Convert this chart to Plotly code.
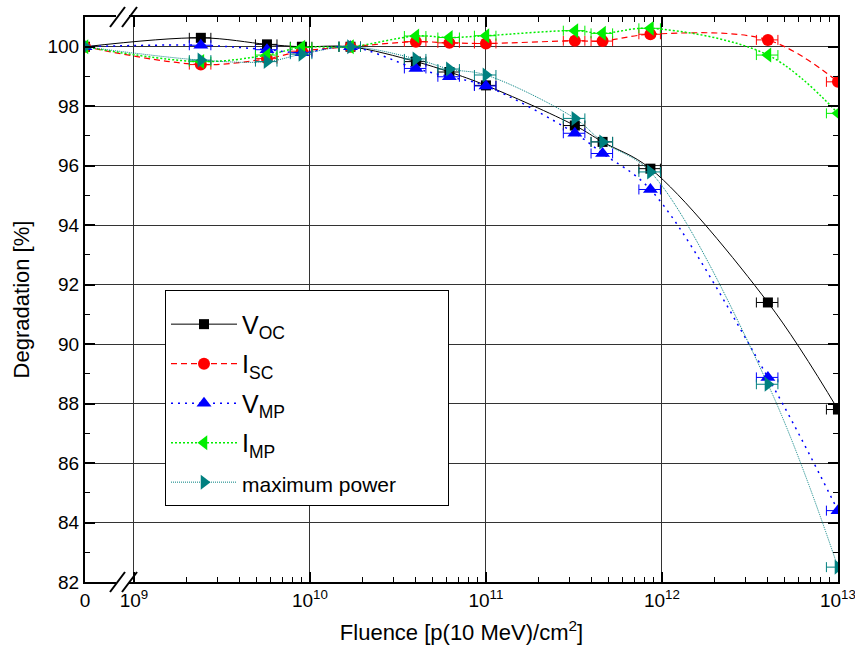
import plotly.graph_objects as go

# Fluence values in p(10 MeV)/cm^2 (0 = unirradiated reference)
fluence = [0, 2.4e9, 5.7e9, 9e9, 1.7e10, 4e10, 6.2e10, 1e11, 3.2e11, 4.6e11, 8.6e11, 4e12, 1e13]

# Remaining fraction of each parameter, in %
voc = [100.0, 100.3, 100.08, 100.0, 100.0, 99.5, 99.15, 98.7, 97.35, 96.8, 95.9, 91.4, 87.8]
isc = [100.0, 99.4, 99.6, 99.85, 100.0, 100.17, 100.13, 100.11, 100.2, 100.19, 100.42, 100.23, 98.82]
vmp = [100.0, 100.05, 99.9, 99.8, 100.0, 99.27, 98.99, 98.68, 97.09, 96.41, 95.2, 88.88, 84.4]
imp = [100.0, 99.5, 99.72, 99.98, 100.0, 100.36, 100.31, 100.37, 100.54, 100.45, 100.62, 99.72, 97.76]
pmax = [100.0, 99.55, 99.5, 99.75, 100.0, 99.59, 99.25, 99.05, 97.59, 96.8, 95.79, 88.65, 82.5]

fluence_err = 0.14  # relative uncertainty of the fluence

x_tickvals = [0, 1e9, 1e10, 1e11, 1e12, 1e13]
x_ticktext = ["0", "10<sup>9</sup>", "10<sup>10</sup>", "10<sup>11</sup>",
              "10<sup>12</sup>", "10<sup>13</sup>"]
y_tickvals = [82, 84, 86, 88, 90, 92, 94, 96, 98, 100]

FONT = "Liberation Sans, Arial, sans-serif"

# broken log axis: the zero point sits just left of the break
LOG_MIN = 8.722
LOG_MAX = 13.0003
ZERO_POS = 10 ** LOG_MIN


def axis_x(v):
    return ZERO_POS if v == 0 else v


xs = [axis_x(v) for v in fluence]
xerr = [fluence_err * v for v in fluence]

NB = "\u00a0"
series = [
    ("V<sub>OC</sub>", voc, "#000000", "square", 10, dict(width=1)),
    ("I<sub>SC</sub>", isc, "#ff0000", "circle", 12, dict(width=1.2, dash="6px,4px")),
    ("V<sub>MP</sub>", vmp, "#0000ff", "triangle-up", 13, dict(width=1.5, dash="2px,5px")),
    ("I<sub>MP</sub>", imp, "#00ee00", "triangle-left", 13, dict(width=1.5, dash="2px,2px")),
    ("<span style='font-size:21px'>maximum power" + NB * 8 + "</span>", pmax, "#008080",
     "triangle-right", 13, dict(width=1, dash="1px,1px")),
]

fig = go.Figure()
for i, (name, vals, color, symbol, size, line) in enumerate(series):
    fig.add_trace(go.Scatter(
        x=xs, y=vals, name=name, mode="lines+markers",
        line=dict(color=color, shape="spline", smoothing=1.0, **line),
        marker=dict(symbol=symbol, size=size, color=color, line=dict(width=0)),
        error_x=dict(type="data", array=xerr, arrayminus=xerr, color=color,
                     thickness=1, width=5, visible=True),
        legendgroup=f"g{i}",
    ))

axis_common = dict(
    showline=True, linewidth=2, linecolor="black", mirror="ticks",
    ticks="inside", ticklen=10, tickwidth=1.5, tickcolor="black",
    showgrid=True, gridcolor="#333333", gridwidth=1, zeroline=False,
    tickfont=dict(family=FONT, size=19, color="black"),
    ticklabeloverflow="allow",
)

fig.update_xaxes(
    type="log", range=[LOG_MIN, LOG_MAX], automargin=False,
    tickmode="array", tickvals=[axis_x(v) for v in x_tickvals], ticktext=x_ticktext,
    minor=dict(ticks="inside", ticklen=5, tickwidth=1, tickcolor="black", showgrid=False,
               tickvals=[m * 10 ** e for e in range(9, 13) for m in range(2, 10)]),
    title=dict(text="Fluence [p(10 MeV)/cm<sup>2</sup>]",
               font=dict(family=FONT, size=22, color="black")),
    **axis_common,
)
fig.update_yaxes(
    range=[82, 101], tickmode="array", tickvals=y_tickvals,
    minor=dict(ticks="inside", ticklen=5, tickwidth=1, tickcolor="black", showgrid=False,
               dtick=1),
    title=dict(text="Degradation [%]", standoff=12,
               font=dict(family=FONT, size=22, color="black")),
    **axis_common,
)

# "//" marks of the axis break at bottom and top
brk_x0 = (110 - 85) / 753
for yb in (0, 1):
    fig.add_shape(type="rect", xref="paper", yref="paper",
                  x0=(116 - 85) / 753, x1=(129 - 85) / 753,
                  y0=yb - 0.004, y1=yb + 0.004,
                  fillcolor="white", line=dict(width=0), layer="above")
    for dx in (0, 12 / 753):
        fig.add_shape(type="line", xref="paper", yref="paper",
                      x0=brk_x0 + dx, x1=brk_x0 + dx + 15 / 753,
                      y0=yb - 10 / 565, y1=yb + 10 / 565,
                      line=dict(color="black", width=2), layer="above")

fig.update_layout(
    width=855, height=654,
    margin=dict(l=85, r=17, t=17, b=72),
    paper_bgcolor="white", plot_bgcolor="white",
    font=dict(family=FONT, color="black"),
    showlegend=True,
    legend=dict(
        x=(165 - 85) / 753, y=1 - (290 - 17) / 565, xanchor="left", yanchor="top",
        bgcolor="white", bordercolor="black", borderwidth=1,
        font=dict(family=FONT, size=25, color="black"),
        title=dict(text=" ", font=dict(size=8)),
        tracegroupgap=4, itemwidth=66,
    ),
)

fig.write_html("out.html")
